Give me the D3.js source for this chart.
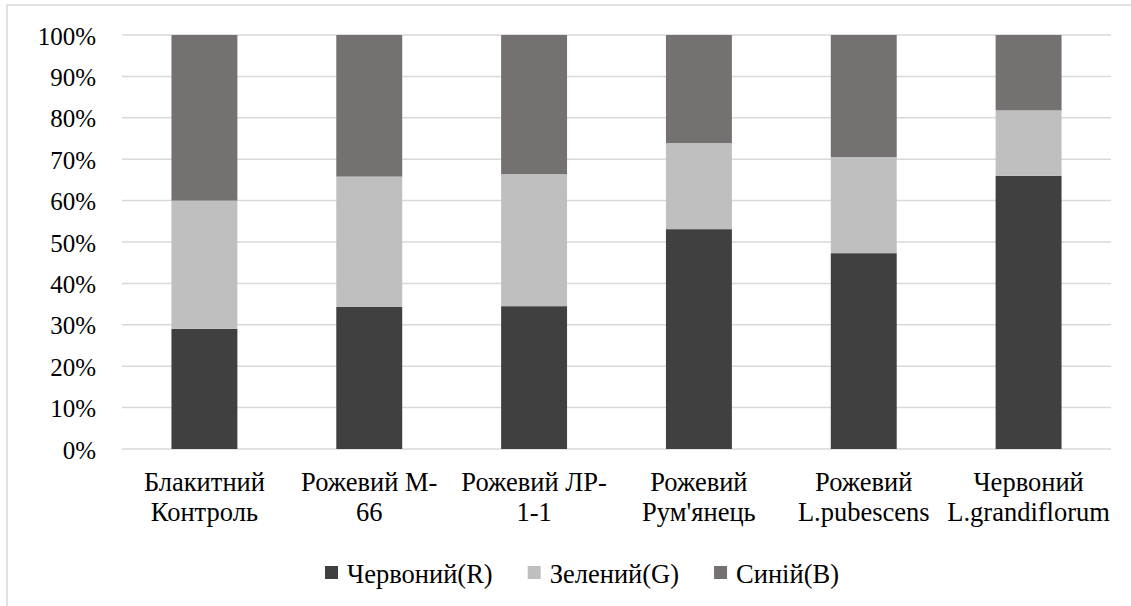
<!DOCTYPE html>
<html>
<head>
<meta charset="utf-8">
<script src="https://cdn.jsdelivr.net/npm/d3@7"></script>
<style>
  html, body { margin: 0; padding: 0; background: #fff; }
  svg { display: block; }
</style>
</head>
<body>
<svg id="chart" width="1131" height="606"></svg>
<script>
const categories = [
  ["Блакитний", "Контроль"],
  ["Рожевий М-", "66"],
  ["Рожевий ЛР-", "1-1"],
  ["Рожевий", "Рум'янець"],
  ["Рожевий", "L.pubescens"],
  ["Червоний", "L.grandiflorum"]
];
const seriesNames = ["Червоний(R)", "Зелений(G)", "Синій(B)"];
const seriesColors = ["#404040", "#bfbfbf", "#767171"];
const redValues   = [29.0, 34.3, 34.5, 53.1, 47.3, 66.0];
const greenValues = [31.0, 31.5, 31.9, 20.8, 23.2, 15.8];
const blueValues  = [40.0, 34.2, 33.6, 26.1, 29.5, 18.2];
const yTicks = [0, 10, 20, 30, 40, 50, 60, 70, 80, 90, 100];

const FONT = "Liberation Serif";
const svg = d3.select("#chart");
const W = 1131, H = 606;

// outer chart border
svg.append("rect").attr("x", 7).attr("y", 5).attr("width", W + 10).attr("height", H + 10)
  .attr("fill", "#fff").attr("stroke", "#d9d9d9").attr("stroke-width", 1.5);

const plot = { left: 122, right: 1111, top: 35, bottom: 449 };

const keys = categories.map((c, i) => i);
const x = d3.scaleBand().domain(keys).range([plot.left, plot.right])
  .paddingInner(0.6).paddingOuter(0.3);
const y = d3.scaleLinear().domain([0, 100]).range([plot.bottom, plot.top]);

// gridlines
svg.append("g").selectAll("line").data(yTicks).join("line")
  .attr("x1", plot.left).attr("x2", plot.right)
  .attr("y1", d => y(d)).attr("y2", d => y(d))
  .attr("stroke", "#d9d9d9").attr("stroke-width", 1.5);

// y axis labels via d3 axis
const yAxis = d3.axisLeft(y).tickValues(yTicks).tickFormat(d => d + "%").tickSize(0).tickPadding(26);
const yg = svg.append("g").attr("transform", `translate(${plot.left},0)`).call(yAxis);
yg.attr("font-family", FONT).attr("font-size", 25);
yg.select(".domain").remove();
yg.selectAll("text").attr("font-family", FONT).attr("font-size", 25).attr("fill", "#000").attr("dy", "0.36em");

// stacked data
const rows = keys.map(i => ({ key: i, R: redValues[i], G: greenValues[i], B: blueValues[i] }));
const stack = d3.stack().keys(["R", "G", "B"]);
const stacked = stack(rows);

svg.append("g").selectAll("g").data(stacked).join("g")
  .attr("fill", (d, i) => seriesColors[i])
  .selectAll("rect").data(d => d).join("rect")
  .attr("x", d => x(d.data.key))
  .attr("width", x.bandwidth())
  .attr("y", d => y(d[1]))
  .attr("height", d => y(d[0]) - y(d[1]));

// category labels
const cg = svg.append("g");
categories.forEach((lines, i) => {
  const cx = x(i) + x.bandwidth() / 2;
  lines.forEach((t, j) => {
    cg.append("text").attr("x", cx).attr("y", 491 + j * 30)
      .attr("text-anchor", "middle").attr("font-family", FONT)
      .attr("font-size", 26.5).attr("fill", "#000").text(t);
  });
});

// legend
const lg = svg.append("g");
let lx = 0;
seriesNames.forEach((name, i) => {
  const g = lg.append("g");
  g.append("rect").attr("x", 0).attr("y", -17).attr("width", 13).attr("height", 13).attr("fill", seriesColors[i]);
  const t = g.append("text").attr("x", 22).attr("y", 0).attr("font-family", FONT)
    .attr("font-size", 26.5).attr("fill", "#000").text(name);
  const w = 22 + t.node().getComputedTextLength();
  g.attr("transform", `translate(${lx},583)`);
  lx += w + 35;
});
lg.attr("transform", `translate(325,0)`);
</script>
</body>
</html>
